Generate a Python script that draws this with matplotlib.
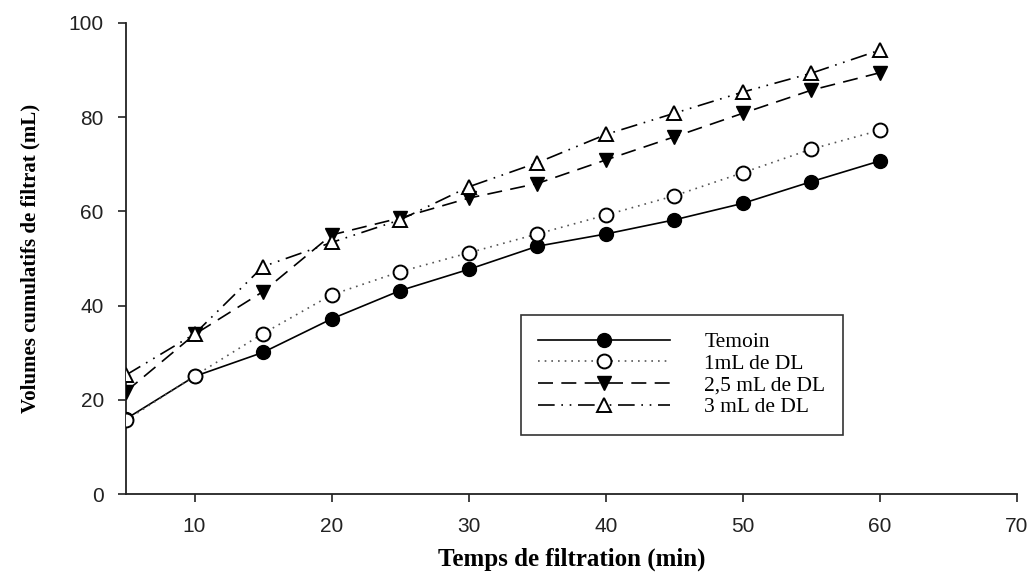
import matplotlib.pyplot as plt

# temps de filtration (min)
temps = [5, 10, 15, 20, 25, 30, 35, 40, 45, 50, 55, 60]

# volumes cumulatifs de filtrat (mL)
temoin = [16.0, 25.0, 30.1, 37.2, 43.2, 47.7, 52.6, 55.2, 58.2, 61.7, 66.3, 70.7]
dl_1ml = [15.7, 25.1, 34.1, 42.3, 47.2, 51.2, 55.2, 59.2, 63.3, 68.2, 73.2, 77.2]
dl_2_5ml = [21.8, 33.9, 43.0, 55.0, 58.6, 62.8, 65.9, 70.9, 75.8, 80.8, 85.7, 89.4]
dl_3ml = [25.3, 34.0, 48.3, 53.4, 58.2, 65.2, 70.3, 76.3, 80.8, 85.3, 89.3, 94.2]

labels = ["Temoin", "1mL de DL", "2,5 mL de DL", "3 mL de DL"]

fig = plt.figure(figsize=(10.32, 5.72), dpi=100)
ax = fig.add_axes([0.1221, 0.1358, 0.8634, 0.8245])

ax.plot(temps, temoin, color="black", lw=1.2, ls="-",
        marker="o", ms=10, mfc="black", mec="black", label=labels[0], zorder=3)
ax.plot(temps, dl_1ml, color="#555555", lw=1.2, ls=(0, (1, 3)),
        marker="o", ms=10, mfc="white", mec="black", mew=1.4, label=labels[1], zorder=4)
ax.plot(temps, dl_2_5ml, color="black", lw=1.2, ls=(0, (9, 5)),
        marker="v", ms=10, mfc="black", mec="black", label=labels[2], zorder=3)
ax.plot(temps, dl_3ml, color="black", lw=1.2, ls=(0, (10, 4, 1, 4, 1, 4)),
        marker="^", ms=10, mfc="white", mec="black", mew=1.4, label=labels[3], zorder=4)

ax.set_xlim(5, 70)
ax.set_ylim(0, 100)
ax.set_xticks([10, 20, 30, 40, 50, 60, 70])
ax.set_yticks([0, 20, 40, 60, 80, 100])

for side in ("top", "right"):
    ax.spines[side].set_visible(False)
for side in ("left", "bottom"):
    ax.spines[side].set_linewidth(1.3)
    ax.spines[side].set_color("#222222")

ax.tick_params(direction="out", length=6, width=1.2, labelsize=15,
               pad=10, colors="#222222")
for lab in ax.get_xticklabels() + ax.get_yticklabels():
    lab.set_fontfamily("Liberation Sans")

ax.set_xlabel("Temps de filtration (min)", fontfamily="Liberation Serif",
              fontweight="bold", fontsize=18, labelpad=9)
ax.set_ylabel("Volumes cumulatifs de filtrat (mL)", fontfamily="Liberation Serif",
              fontweight="bold", fontsize=15, labelpad=20)

leg = ax.legend(loc="upper left", bbox_to_anchor=(0.4435, 0.3806),
                prop={"family": "Liberation Serif", "size": 15.5},
                frameon=True, fancybox=False, edgecolor="black",
                handlelength=6.1, handletextpad=1.6, borderpad=0.8,
                labelspacing=0.08, borderaxespad=0)
leg.get_frame().set_linewidth(1.2)

fig.savefig("out.png", dpi=100)
